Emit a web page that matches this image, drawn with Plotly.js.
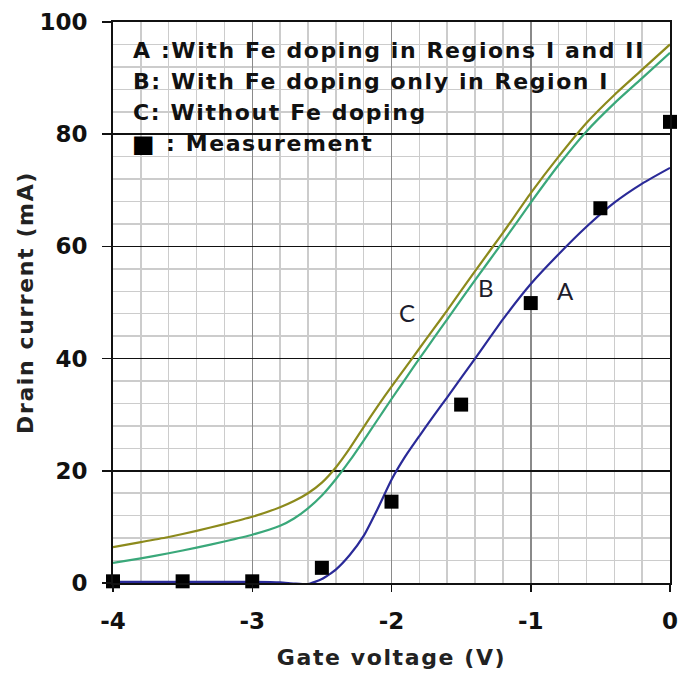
<!DOCTYPE html>
<html>
<head>
<meta charset="utf-8">
<script src="https://cdn.plot.ly/plotly-3.0.1.min.js"></script>
<style>
html,body{margin:0;padding:0;background:#fff}
#chart{width:680px;height:679px}
#chart .annotation-text.wide, #chart .xtitle, #chart .ytitle{letter-spacing:1.6px}
</style>
</head>
<body>
<div id="chart"></div>
<script>
// Gate voltage grid for simulated curves (V)
const vCurve = [-4.0, -3.8, -3.6, -3.4, -3.2, -3.0, -2.8, -2.7, -2.6, -2.5, -2.4, -2.3, -2.2, -2.1, -2.0, -1.9, -1.8, -1.7, -1.6, -1.4, -1.2, -1.0, -0.8, -0.6, -0.4, -0.2, 0.0];
// Curve A: with Fe doping in Regions I and II (mA)
const curveA = [0.2, 0.2, 0.2, 0.2, 0.2, 0.2, 0.1, -0.1, -0.2, 0.7, 2.4, 5.0, 8.4, 13.2, 18.4, 22.6, 26.2, 29.7, 33.1, 40.0, 47.0, 53.3, 58.6, 63.5, 67.8, 71.2, 74.0];
// Curve B: with Fe doping only in Region I (mA)
const curveB = [3.6, 4.4, 5.3, 6.3, 7.4, 8.6, 10.2, 11.5, 13.3, 15.6, 18.5, 21.8, 25.4, 29.1, 32.8, 36.4, 40.0, 43.5, 47.0, 54.0, 60.8, 67.8, 74.5, 80.5, 85.5, 90.0, 94.5];
// Curve C: without Fe doping (mA)
const curveC = [6.4, 7.3, 8.2, 9.3, 10.5, 11.8, 13.5, 14.6, 16.0, 17.9, 20.6, 24.0, 27.8, 31.5, 35.0, 38.4, 41.8, 45.2, 48.6, 55.6, 62.4, 69.5, 76.0, 82.0, 87.0, 91.5, 96.0];
// Measurements
const vMeas = [-4.0, -3.5, -3.0, -2.5, -2.0, -1.5, -1.0, -0.5, 0.0];
const iMeas = [0.3, 0.3, 0.3, 2.7, 14.5, 31.8, 49.9, 66.8, 82.2];

const xTicks = [-4, -3, -2, -1, 0];
const xTickText = ['-4', '-3', '-2', '-1', '0'];
const yTicks = [0, 20, 40, 60, 80, 100];
const yTickText = ['0', '20', '40', '60', '80', '100'];

const legendLines = [
  'A :With Fe doping in Regions I and II',
  'B: With Fe doping only in Region I',
  'C: Without Fe doping'
];
const measLabel = ': Measurement';

const curveLabels = ['C', 'B', 'A'];
const curveLabelX = [-1.89, -1.32, -0.75];
const curveLabelY = [48.3, 52.6, 52.2];

const boldFont = 'DejaVu Sans, Verdana, sans-serif';

const traces = [
  {x: vCurve, y: curveC, mode: 'lines', line: {color: '#8c8a1c', width: 2.2, shape: 'spline', smoothing: 0.5}, hoverinfo: 'skip'},
  {x: vCurve, y: curveB, mode: 'lines', line: {color: '#3aa87a', width: 2.2, shape: 'spline', smoothing: 0.5}, hoverinfo: 'skip'},
  {x: vCurve, y: curveA, mode: 'lines', line: {color: '#2a2a98', width: 2.2, shape: 'spline', smoothing: 0.5}, hoverinfo: 'skip'},
  {x: vMeas, y: iMeas, mode: 'markers', marker: {symbol: 'square', size: 14, color: '#000'}, cliponaxis: false}
];

const annotations = [];
legendLines.forEach((t, i) => {
  annotations.push({xref: 'paper', yref: 'paper', x: 0.032, y: [0.950, 0.894, 0.838][i], xanchor: 'left', yanchor: 'middle', align: 'left',
    text: t, showarrow: false, font: {family: boldFont, size: 22, weight: 'bold', color: '#111'}});
});
annotations.push({xref: 'paper', yref: 'paper', x: 0.0555, y: 0.782, xanchor: 'center', yanchor: 'middle',
  text: '■', showarrow: false, font: {family: boldFont, size: 24, color: '#000'}});
annotations.push({xref: 'paper', yref: 'paper', x: 0.091, y: 0.783, xanchor: 'left', yanchor: 'middle', align: 'left',
  text: measLabel, showarrow: false, font: {family: boldFont, size: 22, weight: 'bold', color: '#111'}});
curveLabels.forEach((t, i) => {
  annotations.push({x: curveLabelX[i], y: curveLabelY[i], text: t, showarrow: false, xanchor: 'center', yanchor: 'middle',
    font: {family: 'Lato, Open Sans, sans-serif', size: 24, color: '#1c1c2c'}});
});

const layout = {
  width: 680, height: 679,
  margin: {l: 113, r: 10, t: 22, b: 96},
  paper_bgcolor: '#fff', plot_bgcolor: '#fff',
  showlegend: false,
  xaxis: {
    range: [-4, 0], tickvals: xTicks, ticktext: xTickText,
    showgrid: true, gridcolor: '#8a8a8a', gridwidth: 1.5,
    minor: {dtick: 0.2, tick0: 0, showgrid: true, gridcolor: '#cccccc', gridwidth: 1.5, ticks: ''},
    showline: true, linecolor: '#111', linewidth: 2, mirror: true,
    ticks: 'outside', ticklen: 7, tickwidth: 1.5, tickcolor: '#111', ticklabelstandoff: 9,
    tickfont: {family: boldFont, size: 23, weight: 'bold', color: '#111'}, zeroline: false,
    title: {text: 'Gate voltage (V)', font: {family: boldFont, size: 22, weight: 'bold', color: '#222'}, standoff: 17}
  },
  yaxis: {
    range: [0, 100], tickvals: yTicks, ticktext: yTickText,
    showgrid: true, gridcolor: '#111', gridwidth: 1.5,
    minor: {dtick: 4, tick0: 0, showgrid: true, gridcolor: '#cccccc', gridwidth: 1.5, ticks: ''},
    showline: true, linecolor: '#111', linewidth: 2, mirror: true,
    ticks: 'outside', ticklen: 9, tickwidth: 1.5, tickcolor: '#111', ticklabelstandoff: 10,
    tickfont: {family: boldFont, size: 23, weight: 'bold', color: '#111'}, zeroline: false,
    title: {text: 'Drain current (mA)', font: {family: boldFont, size: 22, weight: 'bold', color: '#222'}, standoff: 0}
  },
  annotations: annotations
};

Plotly.newPlot('chart', traces, layout, {displayModeBar: false, staticPlot: true}).then(function () {
  document.querySelectorAll('#chart .annotation-text').forEach(function (el) {
    if (el.textContent.length > 3) el.classList.add('wide');
  });
});
</script>
</body>
</html>
